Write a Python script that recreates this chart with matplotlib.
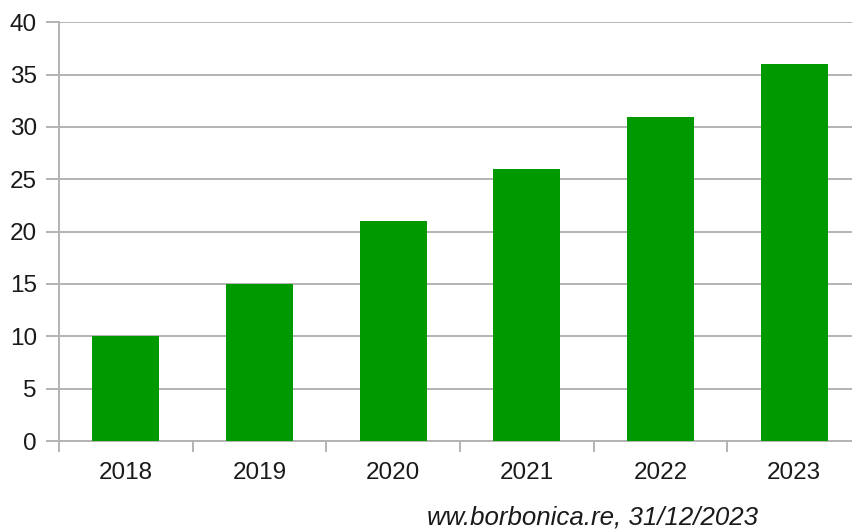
import matplotlib
matplotlib.use("Agg")
import matplotlib.pyplot as plt

years = ["2018", "2019", "2020", "2021", "2022", "2023"]
values = [10, 15, 21, 26, 31, 36]
yticks = [0, 5, 10, 15, 20, 25, 30, 35, 40]
note = "ww.borbonica.re, 31/12/2023"

plt.rcParams['font.family'] = ['Liberation Sans', 'DejaVu Sans']

W, H = 853, 531
fig = plt.figure(figsize=(W/100, H/100), dpi=100)
left, right = 59, 861
top, bottom = 22.3, 441
ax = fig.add_axes([left/W, 1-bottom/H, (right-left)/W, (bottom-top)/H])

grid_c = "#b3b3b3"
x = list(range(len(years)))
ax.bar(x, values, width=0.5, color="#009900", zorder=3)
ax.set_xlim(-0.5, len(years)-0.5)
ax.set_ylim(0, 40)
ax.set_yticks(yticks)
ax.set_yticklabels([str(t) for t in yticks])
ax.yaxis.grid(True, color=grid_c, linewidth=1.4, zorder=0)
ax.set_axisbelow(True)

ax.set_xticks([i + 0.5 for i in range(len(years)-1)] + [-0.5])
ax.set_xticklabels([""] * len(years))
ax.set_xticks(x, minor=True)
ax.set_xticklabels(years, minor=True)
ax.tick_params(axis='x', which='minor', length=0, pad=15, labelsize=17.5, labelcolor="#1a1a1a")
ax.tick_params(axis='x', which='major', length=8, width=1.4, color=grid_c, direction='out')
ax.tick_params(axis='y', length=9.5, width=1.4, color=grid_c, pad=6.5, labelsize=17.5, labelcolor="#1a1a1a")

for s in ['top', 'right']:
    ax.spines[s].set_visible(False)
for s in ['left', 'bottom']:
    ax.spines[s].set_color(grid_c)
    ax.spines[s].set_linewidth(1.4)

fig.text(427/W, 1-518/H, note, fontsize=18.6, style='italic', color="#1a1a1a", ha='left', va='center')

fig.savefig("out.png", dpi=100)
